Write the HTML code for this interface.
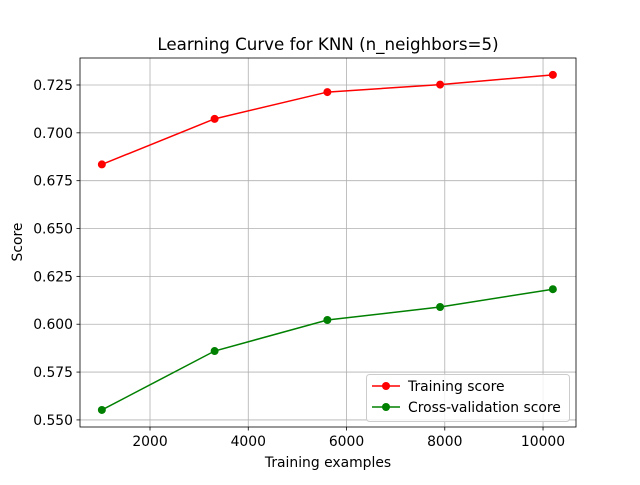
<!DOCTYPE html>
<html><head><meta charset="utf-8"><style>
body{margin:0;background:#fff}
svg text{font-family:"DejaVu Sans","Liberation Sans",sans-serif;fill:#000}
</style></head><body>
<svg id="chart" width="640" height="480" xmlns="http://www.w3.org/2000/svg">
<rect width="640" height="480" fill="#fff"/>
<g id="grid"></g>
<g id="axes"></g>
<g id="series"></g>
<text x="328" y="50" font-size="16.7" text-anchor="middle">Learning Curve for KNN (n_neighbors=5)</text>
<text x="328" y="467" font-size="13.9" text-anchor="middle">Training examples</text>
<text x="22" y="242" font-size="13.9" text-anchor="middle" transform="rotate(-90 22 242)">Score</text>
<g id="legend">
<rect x="366.5" y="374.5" width="203" height="47" rx="3" fill="#fff" fill-opacity="0.8" stroke="#ccc"/>
<g>
<line x1="372" y1="386" x2="400" y2="386" stroke="red" stroke-width="1.5"/><circle cx="386" cy="386" r="4" fill="red"/>
<text x="408" y="391" font-size="13.9">Training score</text></g>
<g>
<line x1="372" y1="407" x2="400" y2="407" stroke="green" stroke-width="1.5"/><circle cx="386" cy="407" r="4" fill="green"/>
<text x="408" y="412" font-size="13.9">Cross-validation score</text></g>
</g>
</svg>
<script>
const trainSizes=[1020,3315,5610,7905,10200];
const trainScores=[0.6835,0.7073,0.7213,0.7252,0.7303];
const cvScores=[0.5552,0.5860,0.6022,0.6090,0.6183];
const xTicks=[2000,4000,6000,8000,10000];
const yTicks=[0.550,0.575,0.600,0.625,0.650,0.675,0.700,0.725];
const L=80,R=576,T=58,B=427;
const xmin=575,xmax=10671,ymin=0.5463,ymax=0.7391;
const xs=v=>L+(v-xmin)/(xmax-xmin)*(R-L);
const ys=v=>B-(v-ymin)/(ymax-ymin)*(B-T);
const NS='http://www.w3.org/2000/svg';
function mk(tag,attrs,parent){const e=document.createElementNS(NS,tag);for(const k in attrs)e.setAttribute(k,attrs[k]);parent.appendChild(e);return e;}
const grid=document.getElementById('grid'),axes=document.getElementById('axes'),ser=document.getElementById('series');
xTicks.forEach(t=>{const x=xs(t);
 const g=mk('line',{x1:x,x2:x,y1:T,y2:B,stroke:'#b0b0b0','stroke-width':0.8},grid);
 
 mk('line',{x1:x,x2:x,y1:B,y2:B+3.5,stroke:'#000','stroke-width':0.8},axes);
 const tx=mk('text',{x:x,y:B+19,'font-size':13.9,'text-anchor':'middle'},axes);tx.textContent=t;
 });
yTicks.forEach(t=>{const y=ys(t);
 const g=mk('line',{x1:L,x2:R,y1:y,y2:y,stroke:'#b0b0b0','stroke-width':0.8},grid);
 
 mk('line',{x1:L-3.5,x2:L,y1:y,y2:y,stroke:'#000','stroke-width':0.8},axes);
 const tx=mk('text',{x:L-7,y:y+5,'font-size':13.9,'text-anchor':'end'},axes);tx.textContent=t.toFixed(3);
 });
const frame=mk('rect',{x:L,y:T,width:R-L,height:B-T,fill:'none',stroke:'#000','stroke-width':0.8},axes);

function series(vals,color,name){
 const pl=mk('polyline',{points:trainSizes.map((s,i)=>xs(s)+','+ys(vals[i])).join(' '),fill:'none',stroke:color,'stroke-width':1.5},ser);
 
 trainSizes.forEach((s,i)=>{const c=mk('circle',{cx:xs(s),cy:ys(vals[i]),r:4,fill:color},ser);
 });
}
series(trainScores,'red','training-score');
series(cvScores,'green','cv-score');
</script>
</body></html>
